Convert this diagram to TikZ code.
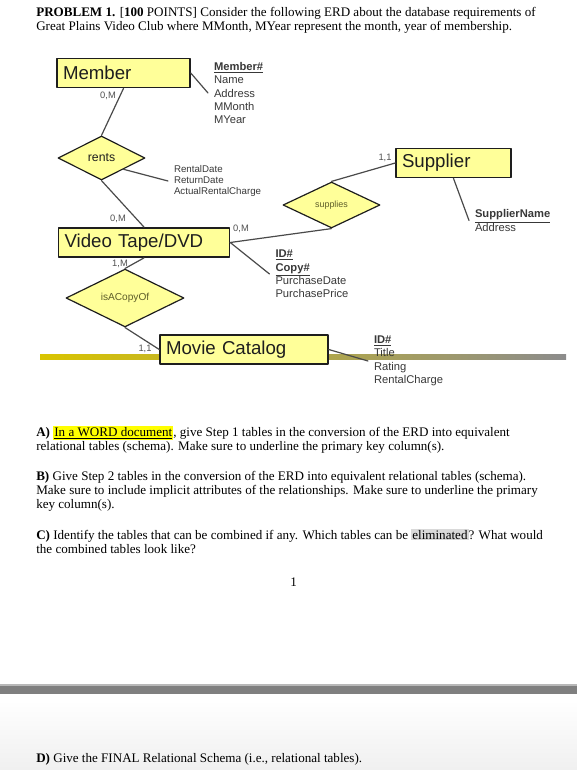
\documentclass[tikz,border=0pt]{standalone}
\usepackage{fontspec}
\setmainfont{Liberation Serif}
\newfontfamily\erdfont{Liberation Sans}
\usepackage{xcolor}
\usepackage{tikz}
\usetikzlibrary{shapes.geometric}
\definecolor{entfill}{HTML}{FFFF99}
\definecolor{ink}{HTML}{1E1E1E}
\definecolor{attrink}{HTML}{383838}
\definecolor{cardink}{HTML}{505050}
\definecolor{relink}{HTML}{5E5E2A}
\definecolor{wire}{HTML}{4A4A4A}
\definecolor{bandgold}{HTML}{D9C400}
\definecolor{bandgray}{HTML}{8C8C8C}
\definecolor{bargray}{HTML}{7F7F7F}
\definecolor{hlyellow}{HTML}{FFFF00}
\definecolor{hlgray}{HTML}{D9D9D9}
\newcommand\hilite[2]{{\setlength\fboxsep{0.8pt}\colorbox{#1}{#2}}}
\newcommand\pkey[1]{\underline{\textbf{#1}}}
\tikzset{
    every picture/.style={line cap=round,line join=round},
    entitybox/.style={draw=ink,fill=entfill,line width=1.1pt,text=ink,
      text width=#1,align=left,inner xsep=4.5pt,inner ysep=0pt,minimum height=22pt,
      font=\erdfont\fontsize{14}{16}\selectfont},
    relnode/.style={draw=ink,fill=entfill,diamond,line width=0.9pt,inner sep=0pt,
      text=relink,font=\erdfont},
    attrlist/.style={anchor=west,align=left,inner xsep=4.3pt,inner ysep=0pt,text=attrink,
      font=\erdfont\fontsize{8.4}{10.1}\selectfont},
    cardlabel/.style={inner sep=0pt,text=cardink,font=\erdfont\fontsize{7}{8}\selectfont},
    erdline/.style={draw=wire,line width=0.9pt},
    para/.style={anchor=base west,inner sep=0pt,align=left,
      font=\fontsize{9.8}{10.5}\selectfont}
}
\begin{document}
\begin{tikzpicture}[x=0.75pt,y=-0.75pt]
  \useasboundingbox (0,0) rectangle (577,770);
  \shade[top color=white,bottom color=black!6] (0,700) rectangle (577,770);
  % anchors below are at the baseline of each text's last line
  \node[para] (title) at (36,31) {\textbf{PROBLEM 1.} [\textbf{100} POINTS] Consider the following ERD about the database requirements of\\
    Great Plains Video Club where MMonth, MYear represent the month, year of membership.};
  % ERD
  \shade[left color=bandgold,right color=bandgray] (40,354.5) rectangle (566,359.5);
  \node[entitybox=90.75pt] (member) at (123.5,73) {Member};
  \node[entitybox=119.25pt] (video) at (144,242.5) {Video Tape/DVD};
  \node[entitybox=77.25pt] (supplier) at (453.5,163) {Supplier};
  \node[entitybox=117pt] (movie) at (244,349.5) {Movie Catalog};
  \node[relnode,text=ink,minimum width=65.25pt,minimum height=33pt,font=\erdfont\fontsize{9.2}{11}\selectfont] (rents) at (101.5,158) {rents};
  \node[relnode,minimum width=72.75pt,minimum height=34.5pt,font=\erdfont\fontsize{6.7}{8}\selectfont] (supplies) at (331.5,205) {supplies};
  \node[relnode,minimum width=88.5pt,minimum height=37.5pt,font=\erdfont\fontsize{7.6}{9}\selectfont] (copyof) at (125,298) {isACopyOf};
  \node[attrlist] (memberattr) at (208,93) {\pkey{Member\#}\\Name\\Address\\MMonth\\MYear};
  \node[attrlist,font=\erdfont\fontsize{7.3}{8.3}\selectfont] (rentsattr) at (168,181) {RentalDate\\ReturnDate\\ActualRentalCharge};
  \node[attrlist] (videoattr) at (269.5,274) {\pkey{ID\#}\\\pkey{Copy\#}\\PurchaseDate\\PurchasePrice};
  \node[attrlist] (supplierattr) at (469,220.5) {\pkey{SupplierName}\\Address};
  \node[attrlist] (movieattr) at (368,361) {\pkey{ID\#}\\Title\\Rating\\RentalCharge};
  \foreach \n/\p/\t in {cmember/{108,96}/{0,M},cvidtop/{118,219}/{0,M},cvidright/{241,229}/{0,M},
      cvidbot/{120,264}/{1,M},cmovie/{145,349}/{1,1},csupplier/{385,158}/{1,1}}
    {\node[cardlabel] (\n) at (\p) {\t};}
  \draw[erdline] (member.east) -- (memberattr.west);
  \draw[erdline] (member.south) -- (rents.north);
  \draw[erdline] (rents.south east) -- (rentsattr.west);
  \draw[erdline] (rents.south) -- (video.north);
  \draw[erdline] (video.east) -- (supplies.south);
  \draw[erdline] (video.east) -- (videoattr.west);
  \draw[erdline] (supplies.north) -- (supplier.west);
  \draw[erdline] (supplier.south) -- (supplierattr.west);
  \draw[erdline] (video.south) -- (copyof.north);
  \draw[erdline] (copyof.south) -- (movie.west);
  \draw[erdline] (movie.east) -- (movieattr.west);
  % questions
  \node[para] (qa) at (36,450) {\textbf{A)} \hilite{hlyellow}{\underline{In a WORD document}}, give Step 1 tables in the conversion of the ERD into equivalent\\
    relational tables (schema). Make sure to underline the primary key column(s).};
  \node[para] (qb) at (36,508) {\textbf{B)} Give Step 2 tables in the conversion of the ERD into equivalent relational tables (schema).\\
    Make sure to include implicit attributes of the relationships. Make sure to underline the primary\\
    key column(s).};
  \node[para] (qc) at (36,553) {\textbf{C)} Identify the tables that can be combined if any. Which tables can be \hilite{hlgray}{eliminated}? What would\\
    the combined tables look like?};
  \node[para] (pagenum) at (290,586) {1};
  \fill[black!28] (0,683.5) rectangle (577,685.5);
  \fill[bargray] (0,685.5) rectangle (577,694);
  \node[para] (qd) at (36,762) {\textbf{D)} Give the FINAL Relational Schema (i.e., relational tables).};
\end{tikzpicture}
\end{document}
